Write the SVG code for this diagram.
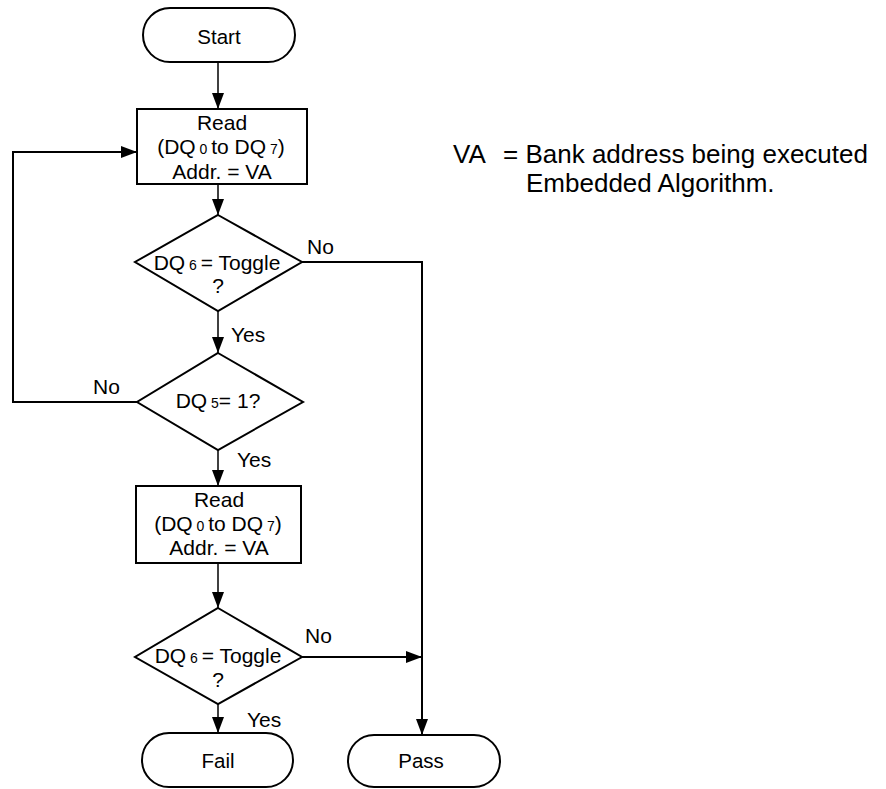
<svg xmlns="http://www.w3.org/2000/svg" width="886" height="789" viewBox="0 0 886 789">
<style>
.shape{fill:#fff;stroke:#000;stroke-width:2}
.t{font-family:"Liberation Sans",Arial,Helvetica,sans-serif;font-size:21px;fill:#000;text-anchor:middle}
.term{font-size:20.5px}
.lbl{font-family:"Liberation Sans",Arial,Helvetica,sans-serif;font-size:21px;fill:#000}
.note{font-family:"Liberation Sans",Arial,Helvetica,sans-serif;font-size:26px;fill:#000}
.sub{font-size:14px}
.c{fill:none;stroke:#000;stroke-width:1.5}
.c2{fill:none;stroke:#000;stroke-width:2}
</style>
<defs>
<marker id="arr" markerUnits="userSpaceOnUse" markerWidth="16" markerHeight="12" refX="16" refY="6" orient="auto">
<path d="M0,0 L16,6 L0,12 Z" fill="#000"/>
</marker>
</defs>
<rect width="886" height="789" fill="#fff"/>
<g id="connectors">
<line class="c" x1="218" y1="62" x2="218" y2="109" marker-end="url(#arr)"/>
<line class="c" x1="218" y1="184" x2="218" y2="215" marker-end="url(#arr)"/>
<polyline class="c2" points="302,262 422,262 422,735" marker-end="url(#arr)"/>
<line class="c" x1="218" y1="311" x2="218" y2="353" marker-end="url(#arr)"/>
<polyline class="c2" points="137,402 13,402 13,152 137,152" marker-end="url(#arr)"/>
<line class="c" x1="218" y1="450" x2="218" y2="486" marker-end="url(#arr)"/>
<line class="c" x1="218" y1="563" x2="218" y2="608" marker-end="url(#arr)"/>
<line class="c2" x1="302" y1="657" x2="422" y2="657" marker-end="url(#arr)"/>
<line class="c" x1="218" y1="704" x2="218" y2="733" marker-end="url(#arr)"/>
<text class="lbl" x="307" y="254">No</text>
<text class="lbl" x="231" y="342">Yes</text>
<text class="lbl" x="93" y="394">No</text>
<text class="lbl" x="237" y="467">Yes</text>
<text class="lbl" x="305" y="643">No</text>
<text class="lbl" x="247" y="727">Yes</text>
</g>
<g id="start">
<rect class="shape" x="143" y="8" width="152" height="54" rx="27" ry="27"/>
<text class="t term" x="219" y="44">Start</text>
</g>
<g id="read1">
<rect class="shape" x="137" y="109" width="170" height="75"/>
<text class="t" x="222" y="130">Read</text>
<text class="t" x="221" y="154">(DQ<tspan class="sub"> 0 </tspan>to DQ<tspan class="sub"> 7</tspan>)</text>
<text class="t" x="222" y="179">Addr. = VA</text>
</g>
<g id="toggle1">
<polygon class="shape" points="218,215 302,262 218,311 135,262"/>
<text class="t" x="217" y="270">DQ<tspan class="sub"> 6 </tspan>= Toggle</text>
<text class="t" x="218" y="293">?</text>
</g>
<g id="dq5">
<polygon class="shape" points="218,353 303,402 218,450 137,402"/>
<text class="t" x="218" y="408">DQ<tspan class="sub"> 5</tspan>= 1?</text>
</g>
<g id="read2">
<rect class="shape" x="136" y="486" width="165" height="77"/>
<text class="t" x="219" y="507">Read</text>
<text class="t" x="218" y="531">(DQ<tspan class="sub"> 0 </tspan>to DQ<tspan class="sub"> 7</tspan>)</text>
<text class="t" x="219" y="555">Addr. = VA</text>
</g>
<g id="toggle2">
<polygon class="shape" points="218,608 302,657 218,704 135,657"/>
<text class="t" x="218" y="663">DQ<tspan class="sub"> 6 </tspan>= Toggle</text>
<text class="t" x="218" y="687">?</text>
</g>
<g id="fail">
<rect class="shape" x="142" y="733" width="151" height="54" rx="27" ry="27"/>
<text class="t term" x="218" y="768">Fail</text>
</g>
<g id="pass">
<rect class="shape" x="348" y="735" width="152" height="52" rx="26" ry="26"/>
<text class="t term" x="421" y="768">Pass</text>
</g>
<g id="note">
<text class="note" x="453" y="163">VA</text>
<text class="note" x="503" y="163">= Bank address being executed</text>
<text class="note" x="526" y="192">Embedded Algorithm.</text>
</g>
</svg>
